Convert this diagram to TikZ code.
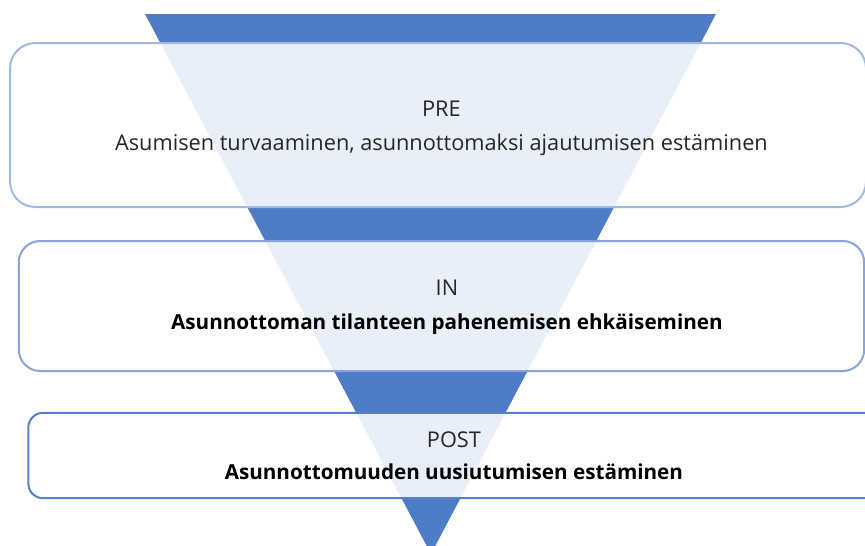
\documentclass[tikz,border=0pt]{standalone}
\usepackage{fontspec}
\setmainfont{Open Sans}
\usepackage{xcolor}
\newcommand{\goalfont}{\fontsize{15.5}{25.5}\selectfont\bfseries\color{black}}

\begin{document}
\begin{tikzpicture}[x=0.75pt,y=-0.75pt]
      \definecolor{funnelcolor}{RGB}{78,124,199}
      \definecolor{precolor}{RGB}{160,184,226}
      \definecolor{incolor}{RGB}{136,164,218}
      \definecolor{postcolor}{RGB}{86,128,202}
      \definecolor{textgray}{RGB}{38,38,38}
      \tikzset{stage/.style={draw,line width=1.5pt,fill=white,fill opacity=0.88,
          inner sep=0pt}}
      \tikzset{stagetext/.style={text=textgray,align=center,inner sep=0pt,
          font=\fontsize{16.3}{25.5}\selectfont}}

      \clip (0,0) rectangle (865,546);

      % funnel
      \fill[funnelcolor] (145,14) -- (716,14) -- (431,554) -- cycle;

      % boxes
      \node[stage,draw=precolor,rounded corners=19pt,
          minimum width=642pt,minimum height=123pt] (pre) at (438,125) {};
      \node[stage,draw=incolor,rounded corners=16pt,
          minimum width=634pt,minimum height=97.5pt] (in) at (441.5,306) {};
      \node[stage,draw=postcolor,rounded corners=11pt,
          minimum width=646pt,minimum height=64pt] (post) at (459,455.5) {};

      % texts
      \node[stagetext] (pretext) at ([xshift=2.6pt,yshift=-2.2pt]pre.center)
          {PRE\\Asumisen turvaaminen, asunnottomaksi ajautumisen estäminen};
      \node[stagetext] (intext) at ([xshift=4.1pt,yshift=-0.8pt]in.center)
          {IN\\{\goalfont Asunnottoman tilanteen pahenemisen ehkäiseminen}};
      \node[stagetext] (posttext) at ([xshift=-3.8pt]post.center)
          {POST\\[-1.5pt]{\goalfont Asunnottomuuden uusiutumisen estäminen}};
\end{tikzpicture}
\end{document}
